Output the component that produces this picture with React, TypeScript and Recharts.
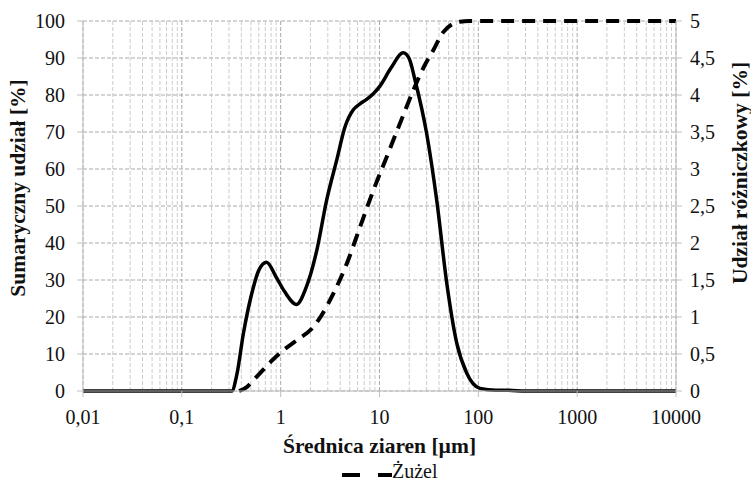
import {
  LineChart,
  Line,
  XAxis,
  YAxis,
  CartesianGrid,
  ReferenceLine,
  Legend,
  Label
} from 'recharts';

// średnica ziaren [µm] -> udział różniczkowy [%] (prawa oś)
const diffSize = [0.01, 0.1, 0.3, 0.32, 0.36, 0.42, 0.5, 0.6, 0.72, 0.9, 1.1, 1.45, 1.8, 2.32, 2.92, 3.69, 4.48, 5.43, 6.35, 7.4, 8.7, 10.1, 13, 17.4, 20, 22.9, 30, 37.9, 47.9, 60.4, 76.4, 104, 150, 200, 300, 1000, 10000];
const diffValue = [0, 0, 0, 0, 0.22, 0.78, 1.27, 1.63, 1.74, 1.54, 1.34, 1.17, 1.39, 1.9, 2.58, 3.12, 3.57, 3.8, 3.88, 3.94, 4.02, 4.12, 4.36, 4.57, 4.49, 4.2, 3.48, 2.58, 1.46, 0.65, 0.24, 0.035, 0.01, 0.01, 0, 0, 0];

// średnica ziaren [µm] -> sumaryczny udział [%] (lewa oś)
const cumSize = [0.38, 0.45, 0.57, 0.8, 1.06, 1.45, 2.14, 3.41, 4.66, 6.35, 8.66, 11.8, 16.1, 22, 28, 35, 44.2, 55, 65, 80, 100, 1000, 10000];
const cumValue = [0, 1, 3.8, 8, 11, 13.7, 17.3, 26.3, 34.4, 44.3, 54.2, 63.2, 72.3, 81.3, 87.5, 92.1, 97, 99.2, 99.8, 100, 100, 100, 100];

const xTicks = [0.01, 0.1, 1, 10, 100, 1000, 10000];
const leftTicks = [0, 10, 20, 30, 40, 50, 60, 70, 80, 90, 100];
const rightTicks = [0, 0.5, 1, 1.5, 2, 2.5, 3, 3.5, 4, 4.5, 5];
const minorX = [0.01, 0.1, 1, 10, 100, 1000].flatMap((d) => [2, 3, 4, 5, 6, 7, 8, 9].map((m) => +(d * m).toPrecision(3)));

const diffData = diffSize.map((x, i) => ({ x, v: diffValue[i] }));
const cumData = cumSize.map((x, i) => ({ x, v: cumValue[i] }));

const font = "'Liberation Serif', 'DejaVu Serif', 'Times New Roman', serif";
const tickStyle = { fill: '#111', fontSize: 20, fontFamily: font };
const titleStyle = { fontFamily: font, fontSize: 21.5, fontWeight: 'bold', fill: '#111', whiteSpace: 'pre' as const };

const fmt = (v: number) => String(v).replace('.', ',');

function LegendBox() {
  return (
    <div style={{ display: 'flex', alignItems: 'flex-start', fontFamily: font, fontSize: 20, lineHeight: '20px', color: '#111' }}>
      <svg width={50} height={20}>
        <line x1={0} y1={14} x2={50} y2={14} stroke="#000" strokeWidth={4} strokeDasharray="18 18" />
      </svg>
      <span>Żużel</span>
    </div>
  );
}

export default function App() {
  return (
    <div style={{ position: 'absolute', left: 0, top: 0, width: 751, height: 481, background: '#fff', fontFamily: font }}>
      <LineChart width={751} height={481} margin={{ top: 21, right: 10, left: 10, bottom: 50 }}>
        <CartesianGrid yAxisId="left" stroke="#aaa" strokeDasharray="4 2" />
        {minorX.map((x) => (
          <ReferenceLine key={x} x={x} yAxisId="left" stroke="#ccc" strokeDasharray="4 2" />
        ))}
        <XAxis
          dataKey="x"
          type="number"
          scale="log"
          domain={[0.01, 10000]}
          ticks={xTicks}
          allowDataOverflow
          height={40}
          tickFormatter={fmt}
          tick={tickStyle}
          tickSize={6}
          tickMargin={13}
          stroke="#bfbfbf"
        >
          <Label value="Średnica ziaren [µm]" position="bottom" offset={7} style={titleStyle} />
        </XAxis>
        <YAxis
          yAxisId="left"
          domain={[0, 100]}
          ticks={leftTicks}
          width={73}
          tick={tickStyle}
          tickSize={6}
          tickMargin={12}
          stroke="#bfbfbf"
        >
          <Label value="Sumaryczny udział [%]" angle={-90} position="center" dx={-29} dy={-18} style={titleStyle} />
        </YAxis>
        <YAxis
          yAxisId="right"
          orientation="right"
          domain={[0, 5]}
          ticks={rightTicks}
          width={65}
          tickFormatter={fmt}
          tick={tickStyle}
          tickSize={6}
          tickMargin={8}
          stroke="#bfbfbf"
        >
          <Label value="Udział  różniczkowy [%]" angle={-90} position="center" dx={31} dy={-33} style={titleStyle} />
        </YAxis>
        <Line
          yAxisId="right"
          data={diffData}
          dataKey="v"
          type="monotone"
          stroke="#000"
          strokeWidth={3.5}
          dot={false}
          legendType="none"
          isAnimationActive={false}
        />
        <Line
          yAxisId="left"
          data={cumData}
          dataKey="v"
          name="Żużel"
          type="monotone"
          stroke="#000"
          strokeWidth={4}
          strokeDasharray="13 8"
          dot={false}
          isAnimationActive={false}
        />
        <Legend
          verticalAlign="middle"
          content={() => <LegendBox />}
          wrapperStyle={{ top: 461, left: 342, width: 120 }}
        />
      </LineChart>
    </div>
  );
}
